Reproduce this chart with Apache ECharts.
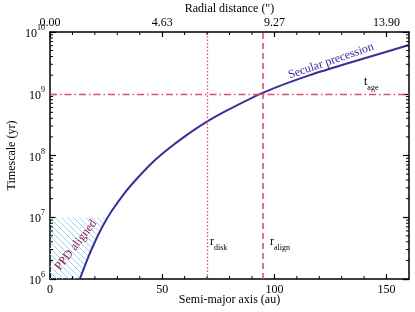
<!DOCTYPE html>
<html><head><meta charset="utf-8">
<script src="https://cdn.jsdelivr.net/npm/echarts@6/dist/echarts.min.js"></script>
<style>html,body{margin:0;padding:0;background:#fff}#c{width:415px;height:312px}</style>
</head><body><div id="c"></div>
<script>
// ---- data ----
const semiMajorAxis = [13.3, 17.1, 20.0, 23.7, 27.5, 33.4, 38.6, 46.0, 53.5, 60.9, 70.5, 80.0, 95.8, 115.8, 138, 160];
const precessionTime = [1.0e6, 2.29e6, 3.98e6, 7.41e6, 1.26e7, 2.51e7, 4.17e7, 7.94e7, 1.35e8, 2.14e8, 3.63e8, 5.62e8, 1.07e9, 2.0e9, 3.55e9, 6.17e9];
const rDisk = 70;
const rAlign = 95;
const tAge = 1e9;
const ppdTimeLimit = 1e7;
const bottomTickValues = [0, 50, 100, 150];
const topTickLabels = ['0.00', '4.63', '9.27', '13.90'];
const xMinorTicks = [10, 20, 30, 40, 60, 70, 80, 90, 110, 120, 130, 140];
const yMinorMantissas = [2, 3, 4, 5, 6, 7, 8, 9];
const yDecades = [6, 7, 8, 9];

const FONT = 'Liberation Serif';
const RED = '#d9506e';
const BLUE = '#3a2e96';

const yMinorTicks = [];
yDecades.forEach(d => yMinorMantissas.forEach(m => yMinorTicks.push(m * Math.pow(10, d))));

// hatch polygon: x from 0 to the curve, time from 1e6 to ppdTimeLimit
const hatchPts = [[0, 1e6], [0, ppdTimeLimit]];
(function () {
  let i = precessionTime.findIndex(v => v >= ppdTimeLimit);
  const l0 = Math.log10(precessionTime[i - 1]), l1 = Math.log10(precessionTime[i]);
  const f = (Math.log10(ppdTimeLimit) - l0) / (l1 - l0);
  hatchPts.push([semiMajorAxis[i - 1] + f * (semiMajorAxis[i] - semiMajorAxis[i - 1]), ppdTimeLimit]);
  for (let j = i - 1; j >= 0; j--) hatchPts.push([semiMajorAxis[j], precessionTime[j]]);
})();

const pc = document.createElement('canvas');
pc.width = 6; pc.height = 6;
const g = pc.getContext('2d');
g.strokeStyle = '#9fd4ef'; g.lineWidth = 1;
g.beginPath();
g.moveTo(0, 0); g.lineTo(6, 6);
g.moveTo(-1, 5); g.lineTo(1, 7);
g.moveTo(5, -1); g.lineTo(7, 1);
g.stroke();

const chart = echarts.init(document.getElementById('c'), null, { renderer: 'canvas' });

const axisCommon = {
  min: 0, max: 160, interval: 50,
  axisLine: { show: true, onZero: false, lineStyle: { color: '#000', width: 1.5 } },
  axisTick: { show: true, inside: true, length: 5, lineStyle: { color: '#000', width: 1.2 } },
  splitLine: { show: false },
  nameLocation: 'middle', nameMoveOverlap: false,
  nameTextStyle: { fontFamily: FONT, fontSize: 12, color: '#000' }
};
const yCommon = {
  type: 'log', logBase: 10, min: 1e6, max: 1e10,
  axisLine: { show: true, onZero: false, lineStyle: { color: '#000', width: 1.5 } },
  axisTick: { show: true, inside: true, length: 6, lineStyle: { color: '#000', width: 1.2 } },
  splitLine: { show: false },
  nameLocation: 'middle', nameMoveOverlap: false,
  nameTextStyle: { fontFamily: FONT, fontSize: 12, color: '#000' }
};

const option = {
  animation: false,
  backgroundColor: '#fff',
  grid: { left: 50, right: 6, top: 32, bottom: 33, containLabel: false, outerBoundsMode: 'none' },
  xAxis: [
    Object.assign({}, axisCommon, {
      type: 'value', position: 'bottom', name: 'Semi-major axis (au)', nameGap: 15,
      axisLabel: { fontFamily: FONT, fontSize: 12, color: '#000', margin: 5, showMaxLabel: false,
        formatter: v => bottomTickValues.indexOf(v) >= 0 ? String(v) : '' }
    }),
    Object.assign({}, axisCommon, {
      type: 'value', position: 'top', name: 'Radial distance (")', nameGap: 17,
      axisLabel: { fontFamily: FONT, fontSize: 12, color: '#000', margin: 3, showMaxLabel: false,
        formatter: v => { const k = bottomTickValues.indexOf(v); return k >= 0 ? topTickLabels[k] : ''; } }
    })
  ],
  yAxis: [
    Object.assign({}, yCommon, {
      position: 'left', name: 'Timescale (yr)', nameGap: 32,
      axisLabel: {
        margin: 5, color: '#000',
        formatter: v => '{b|10}{e|' + Math.round(Math.log10(v)) + '}',
        rich: {
          b: { fontFamily: FONT, fontSize: 12, color: '#000', verticalAlign: 'bottom', lineHeight: 16 },
          e: { fontFamily: FONT, fontSize: 8, color: '#000', verticalAlign: 'top', lineHeight: 16 }
        }
      }
    }),
    Object.assign({}, yCommon, { position: 'right', axisLabel: { show: false } })
  ],
  series: [
    {
      type: 'custom', xAxisIndex: 0, yAxisIndex: 0, clip: true, silent: true, z: 1,
      data: [0],
      renderItem: (params, api) => ({
        type: 'polygon',
        shape: { points: hatchPts.map(p => api.coord(p)) },
        style: { fill: { image: pc, repeat: 'repeat' }, stroke: null }
      })
    },
    {
      type: 'line', xAxisIndex: 0, yAxisIndex: 0, z: 3,
      data: semiMajorAxis.map((x, i) => [x, precessionTime[i]]),
      showSymbol: false, smooth: 0.25, clip: true,
      lineStyle: { color: BLUE, width: 2 },
      markLine: {
        silent: true, symbol: 'none', label: { show: false },
        data: [
          { xAxis: rDisk, lineStyle: { color: RED, width: 1.3, type: [1.5, 2] } },
          { xAxis: rAlign, lineStyle: { color: RED, width: 1.6, type: [6, 4] } },
          { yAxis: tAge, lineStyle: { color: RED, width: 1.3, type: [7, 3, 1.5, 3] } }
        ]
      }
    },
    {
      type: 'custom', xAxisIndex: 0, yAxisIndex: 0, clip: false, silent: true, z: 5,
      data: [0],
      renderItem: (params, api) => {
        const children = [];
        const st = { stroke: '#000', lineWidth: 1 };
        yMinorTicks.forEach(v => {
          const l = api.coord([0, v]), r = api.coord([160, v]);
          children.push({ type: 'line', shape: { x1: l[0], y1: l[1], x2: l[0] + 3, y2: l[1] }, style: st });
          children.push({ type: 'line', shape: { x1: r[0], y1: r[1], x2: r[0] - 3, y2: r[1] }, style: st });
        });
        xMinorTicks.forEach(v => {
          const b = api.coord([v, 1e6]), t = api.coord([v, 1e10]);
          children.push({ type: 'line', shape: { x1: b[0], y1: b[1], x2: b[0], y2: b[1] - 3 }, style: st });
          children.push({ type: 'line', shape: { x1: t[0], y1: t[1], x2: t[0], y2: t[1] + 3 }, style: st });
        });
        return { type: 'group', children };
      }
    }
  ],
  graphic: [
    { type: 'text', x: 76, y: 245, rotation: 52 * Math.PI / 180, z: 10,
      style: { text: 'PPD aligned', fill: '#8b1f50', font: '12px "Liberation Serif"', align: 'center', verticalAlign: 'middle' } },
    { type: 'text', x: 331, y: 61, rotation: 19 * Math.PI / 180, z: 10,
      style: { text: 'Secular precession', fill: BLUE, font: '12px "Liberation Serif"', align: 'center', verticalAlign: 'middle' } },
    { type: 'text', x: 364, y: 76, z: 10,
      style: { text: '{m|t}{s|age}', rich: {
        m: { fontFamily: FONT, fontSize: 12, fill: '#000', verticalAlign: 'top', lineHeight: 16 },
        s: { fontFamily: FONT, fontSize: 8, fill: '#000', verticalAlign: 'bottom', lineHeight: 16 } } } },
    { type: 'text', x: 210, y: 236, z: 10,
      style: { text: '{m|r}{s|disk}', rich: {
        m: { fontFamily: FONT, fontSize: 12, fill: '#000', verticalAlign: 'top', lineHeight: 16 },
        s: { fontFamily: FONT, fontSize: 8, fill: '#000', verticalAlign: 'bottom', lineHeight: 16 } } } },
    { type: 'text', x: 270, y: 236, z: 10,
      style: { text: '{m|r}{s|align}', rich: {
        m: { fontFamily: FONT, fontSize: 12, fill: '#000', verticalAlign: 'top', lineHeight: 16 },
        s: { fontFamily: FONT, fontSize: 8, fill: '#000', verticalAlign: 'bottom', lineHeight: 16 } } } }
  ]
};
chart.setOption(option);
</script>
</body></html>
